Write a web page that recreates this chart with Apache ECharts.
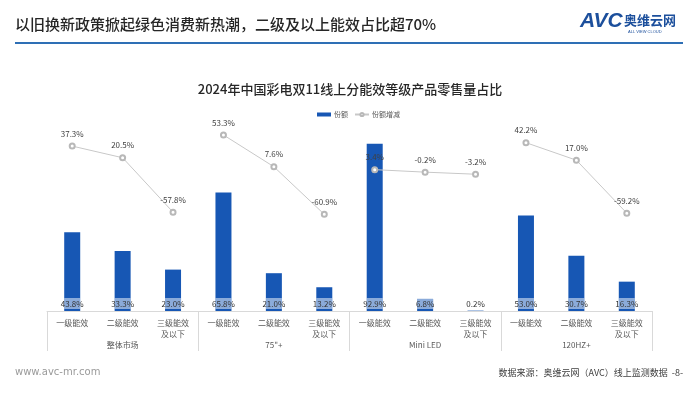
<!DOCTYPE html>
<html><head><meta charset="utf-8">
<script src="https://cdn.jsdelivr.net/npm/echarts@6/dist/echarts.min.js"></script>
<style>html,body{margin:0;padding:0;background:#fff}#c{width:700px;height:394px}</style>
</head><body><div id="c"></div>
<script>
var levels = ['一级能效', '二级能效', '三级能效\n及以下'];
var groups = ['整体市场', '75"+', 'Mini LED', '120HZ+'];
var share = [43.8, 33.3, 23.0, 65.8, 21.0, 13.2, 92.9, 6.8, 0.2, 53.0, 30.7, 16.3];
var change = [37.3, 20.5, -57.8, 53.3, 7.6, -60.9, 3.4, -0.2, -3.2, 42.2, 17.0, -59.2];

var categories = [];
groups.forEach(function () { levels.forEach(function (l) { categories.push(l); }); });

var FONT = '"Noto Sans CJK SC", "Noto Sans", sans-serif';
var chart = echarts.init(document.getElementById('c'), null, {renderer: 'canvas'});

var lineSeries = groups.map(function (g, gi) {
  var d = change.map(function (v, i) { return Math.floor(i / 3) === gi ? v : null; });
  return {
    name: '份额增减', type: 'line', xAxisIndex: 0, yAxisIndex: 1, data: d,
    symbol: 'emptyCircle', symbolSize: 5, connectNulls: false,
    lineStyle: {color: '#c8c8c8', width: 1},
    itemStyle: {color: '#b8b8b8', borderWidth: 1},
    label: {show: true, position: 'top', distance: 5, fontSize: 8, color: '#404040', fontFamily: FONT,
      formatter: function (p) { return p.value.toFixed(1) + '%'; }},
    z: 5
  };
});

var option = {
  animation: false,
  textStyle: {fontFamily: FONT},
  graphic: [
    {type: 'text', left: 15, top: 17, style: {text: '以旧换新政策掀起绿色消费新热潮，二级及以上能效占比超70%', fontSize: 15, fontWeight: 500, fill: '#262626', fontFamily: FONT}},
    {type: 'rect', left: 15, top: 42, shape: {width: 668, height: 2}, style: {fill: '#2e6fb5'}},
    {type: 'text', left: 580, top: 11, style: {text: 'AVC', fontSize: 21, fontWeight: 'bold', fontStyle: 'italic', fill: '#1c4f9c', fontFamily: 'Liberation Sans, sans-serif'}},
    {type: 'text', left: 624, top: 14, style: {text: '奥维云网', fontSize: 13, fontWeight: 'bold', fill: '#1c4f9c', fontFamily: FONT}},
    {type: 'text', left: 628, top: 30, style: {text: 'ALL VIEW CLOUD', fontSize: 4, fill: '#1c4f9c', fontFamily: 'Liberation Sans, sans-serif'}},
    {type: 'text', left: 15, top: 367, style: {text: 'www.avc-mr.com', fontSize: 10, fill: '#9a9a9a', fontFamily: 'DejaVu Sans, sans-serif'}},
    {type: 'text', right: 17, top: 368, style: {text: '数据来源：奥维云网（AVC）线上监测数据  -8-', fontSize: 9, fill: '#404040', fontFamily: FONT}}
  ],
  title: {text: '2024年中国彩电双11线上分能效等级产品零售量占比', left: 'center', top: 78,
    textStyle: {fontSize: 13, fontWeight: 500, color: '#262626', fontFamily: FONT}},
  legend: {top: 106, left: 312, itemWidth: 14, itemHeight: 4, itemGap: 6,
    textStyle: {fontSize: 7, color: '#595959', fontFamily: FONT, padding: [0, 0, 0, -2]},
    data: [{name: '份额', icon: 'rect'}, {name: '份额增减'}]},
  grid: {left: 47, right: 48, top: 131, bottom: 83},
  xAxis: [
    {type: 'category', data: categories, position: 'bottom', offset: 0,
      axisLine: {onZero: false, lineStyle: {color: '#d9d9d9'}}, axisTick: {show: false},
      axisLabel: {fontSize: 8, color: '#595959', margin: 6, lineHeight: 11, interval: 0, fontFamily: FONT}},
    {type: 'category', data: groups, position: 'bottom', offset: 0,
      axisLine: {show: false, onZero: false},
      axisTick: {show: true, length: 40, lineStyle: {color: '#d9d9d9'}},
      axisLabel: {fontSize: 8, color: '#595959', margin: 30, interval: 0, fontFamily: FONT}}
  ],
  yAxis: [
    {type: 'value', min: 0, max: 100, show: false, splitLine: {show: false}},
    {type: 'value', min: -200, max: 59, show: false, splitLine: {show: false}}
  ],
  series: [
    {name: '份额', type: 'bar', xAxisIndex: 0, yAxisIndex: 0, data: share, barWidth: 16,
      itemStyle: {color: '#1757b4'},
      label: {show: true, position: 'insideBottom', distance: 2, fontSize: 8, color: '#333',
        backgroundColor: 'rgba(255,255,255,0.5)', padding: [2, 0, 1, 0], width: 16, align: 'center',
        fontFamily: FONT, formatter: function (p) { return p.value.toFixed(1) + '%'; }},
      z: 2}
  ].concat(lineSeries)
};
chart.setOption(option);
</script></body></html>
